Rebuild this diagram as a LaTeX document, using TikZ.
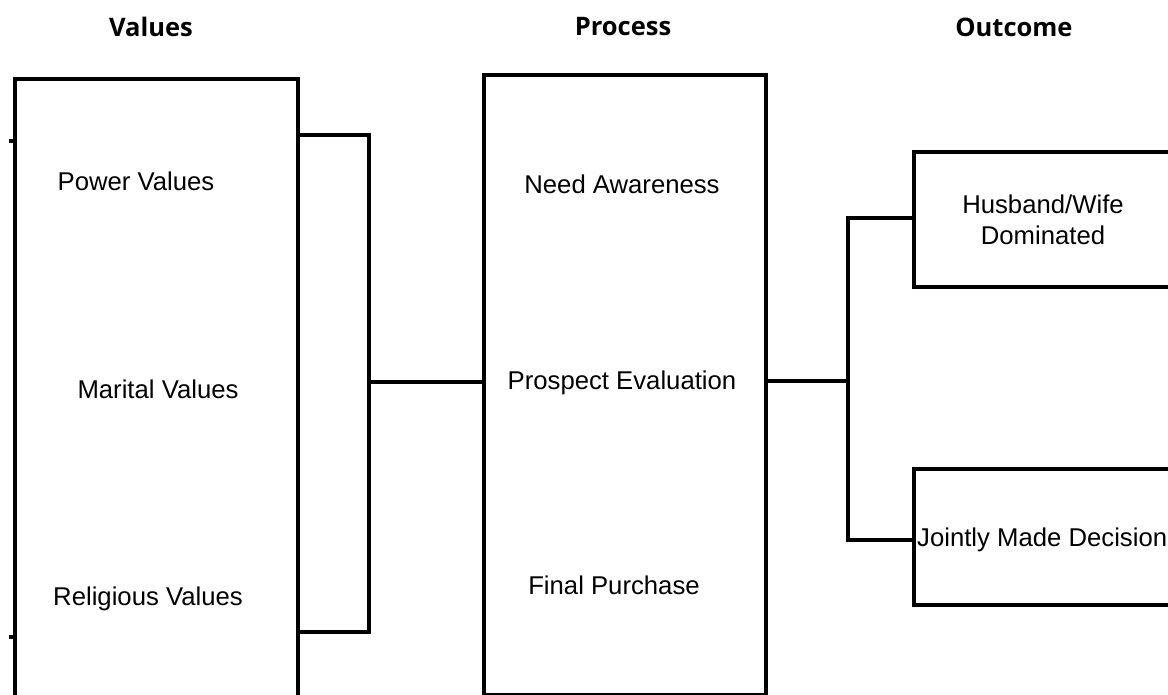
\documentclass[tikz,border=0pt]{standalone}
\usepackage{fontspec}
\setmainfont{Liberation Sans}
\newfontfamily\headfont{Open Sans}
\begin{document}
\begin{tikzpicture}[x=1pt,y=-1pt,
    box/.style={draw, line width=3.6pt, inner sep=0pt, anchor=north west},
    link/.style={line width=3.6pt},
    lbl/.style={font=\fontsize{25.7}{31.5}\selectfont, inner sep=0pt},
    head/.style={font=\headfont\bfseries\fontsize{25.5}{30}\selectfont, inner sep=0pt}]
  \useasboundingbox (0,0) rectangle (1168,695);
  \clip (0,0) rectangle (1168,695);

  % headers
  \node[head] (hval) at (151,27) {Values};
  \node[head] (hpro) at (623,27) {Process};
  \node[head] (hout) at (1014,27) {Outcome};

  % boxes
  \node[box, minimum width=283, minimum height=660] (vbox) at (13,77) {};
  \node[box, minimum width=282, minimum height=620] (pbox) at (482,73) {};
  \node[box, minimum width=300, minimum height=135] (hbox) at (912,150) {};
  \node[box, minimum width=300, minimum height=136] (jbox) at (912,467) {};

  % texts
  \node[lbl] (pow) at (136,181) {Power Values};
  \node[lbl] (mar) at (158,389) {Marital Values};
  \node[lbl] (rel) at (148,599) {Religious Values};
  \node[lbl] (need) at (622,184) {Need Awareness};
  \node[lbl] (pros) at (622,383) {Prospect Evaluation};
  \node[lbl] (fin) at (614,585) {Final Purchase};
  \node[lbl, align=center] (hw) at (1043,220) {Husband/Wife\\Dominated};
  \node[lbl, anchor=west] (joint) at (917,540) {Jointly Made Decision};

  % small ticks on the left
  \draw[link] (9,141) -- (vbox.north west |- 0,141);
  \draw[link] (9,637) -- (vbox.north west |- 0,637);

  % connectors
  \coordinate (bt) at (369,135);
  \coordinate (bb) at (369,632);
  \coordinate (bm) at (369,382);
  \coordinate (sm) at (848,381);
  \coordinate (st) at (848,218);
  \coordinate (sb) at (848,540);
  \draw[link] (vbox.north east |- bt) -- (bt) -- (bb) -- (vbox.north east |- bb);
  \draw[link] (bm) -- (pbox.west |- bm);
  \draw[link] (pbox.east |- sm) -- (sm);
  \draw[link] (hbox.west |- st) -- (st) -- (sb) -- (jbox.west |- sb);
\end{tikzpicture}
\end{document}
